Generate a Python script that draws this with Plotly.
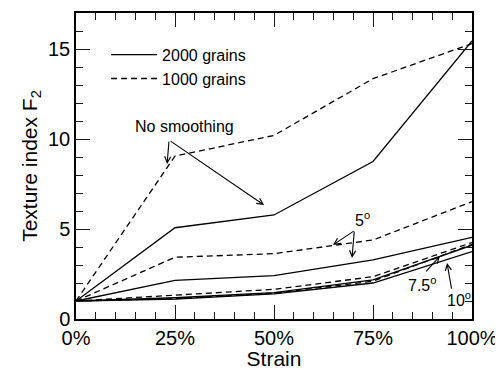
import plotly.graph_objects as go

strain = [0, 25, 50, 75, 100]

nosmooth_2000 = [1.0, 5.07, 5.78, 8.75, 15.45]
nosmooth_1000 = [1.0, 9.05, 10.2, 13.35, 15.3]
deg5_2000 = [1.0, 2.15, 2.41, 3.28, 4.54]
deg5_1000 = [1.0, 3.43, 3.63, 4.39, 6.52]
deg75_2000 = [1.0, 1.18, 1.47, 2.17, 4.1]
deg75_1000 = [1.0, 1.33, 1.65, 2.35, 4.25]
deg10_2000 = [1.0, 1.1, 1.4, 2.0, 3.75]
deg10_1000 = [1.0, 1.13, 1.43, 2.1, 4.15]

series = [
    ("2000 grains", nosmooth_2000, "solid", True),
    ("1000 grains", nosmooth_1000, "6px,4px", True),
    ("5 2000", deg5_2000, "solid", False),
    ("5 1000", deg5_1000, "6px,4px", False),
    ("7.5 2000", deg75_2000, "solid", False),
    ("7.5 1000", deg75_1000, "6px,4px", False),
    ("10 2000", deg10_2000, "solid", False),
    ("10 1000", deg10_1000, "6px,4px", False),
]

FONT = "Liberation Sans, Arial, Helvetica, sans-serif"
TICK = "#1a1a1a"

fig = go.Figure()
for name, vals, dash, show in series:
    fig.add_trace(go.Scatter(
        x=strain, y=vals, mode="lines", name=name, showlegend=show,
        line=dict(color="black", width=1.3, dash=dash),
    ))
# empty trace on overlay axes that carry the minor ticks
fig.add_trace(go.Scatter(x=[], y=[], xaxis="x2", yaxis="y2", showlegend=False, hoverinfo="skip"))

fig.update_layout(
    xaxis=dict(
        range=[0, 100], tickmode="linear", tick0=0, dtick=25, ticksuffix="%",
        showgrid=False, zeroline=False, showline=True, linecolor="black", linewidth=1.5,
        mirror="ticks", ticks="inside", ticklen=14, tickwidth=1, tickcolor=TICK,
        tickfont=dict(family=FONT, size=20, color="black"), automargin=False,
        title=dict(text="Strain", font=dict(family=FONT, size=21, color="black"), standoff=4),
    ),
    yaxis=dict(
        range=[0, 17], tickmode="linear", tick0=0, dtick=5,
        showgrid=False, zeroline=False, showline=True, linecolor="black", linewidth=1.5,
        mirror="ticks", ticks="inside", ticklen=14, tickwidth=1, tickcolor=TICK,
        tickfont=dict(family=FONT, size=20, color="black"), automargin=False,
        title=dict(text="Texture index F<sub>2</sub>", font=dict(family=FONT, size=21, color="black"), standoff=5),
    ),
    xaxis2=dict(
        range=[0, 100], tickmode="linear", tick0=0, dtick=5, overlaying="x", anchor="y2",
        showgrid=False, zeroline=False, showline=False, showticklabels=False,
        mirror="ticks", ticks="inside", ticklen=7, tickwidth=1, tickcolor=TICK, automargin=False,
    ),
    yaxis2=dict(
        range=[0, 17], tickmode="linear", tick0=0, dtick=1, overlaying="y", anchor="x2",
        showgrid=False, zeroline=False, showline=False, showticklabels=False,
        mirror="ticks", ticks="inside", ticklen=7, tickwidth=1, tickcolor=TICK, automargin=False,
    ),
)

ann_font = dict(family=FONT, size=16, color="black")
annotations = [
    dict(x=27.4, y=10.67, text="No smoothing", showarrow=False, font=ann_font),
    dict(x=23.0, y=8.61, ax=23.5, ay=9.94, text="", showarrow=True),
    dict(x=47.5, y=6.33, ax=23.5, ay=9.94, text="", showarrow=True),
    dict(x=72.4, y=5.55, text="5<sup>o</sup>", showarrow=False, font=ann_font),
    dict(x=64.9, y=4.11, ax=70.5, ay=4.94, text="", showarrow=True),
    dict(x=69.7, y=3.39, ax=70.3, ay=4.94, text="", showarrow=True),
    dict(x=87.4, y=1.95, text="7.5<sup>o</sup>", showarrow=False, font=ann_font),
    dict(x=91.9, y=3.5, ax=88.1, ay=2.56, text="", showarrow=True),
    dict(x=96.7, y=1.1, text="10<sup>o</sup>", showarrow=False, font=ann_font),
    dict(x=93.7, y=3.11, ax=94.9, ay=1.6, text="", showarrow=True),
]
for a in annotations:
    if a.get("showarrow"):
        a.update(xref="x", yref="y", axref="x", ayref="y",
                 arrowhead=5, arrowsize=1.1, arrowwidth=1.1, arrowcolor="black")
    else:
        a.update(xref="x", yref="y")
fig.update_layout(annotations=annotations)

# page body adds an 8px offset, so the figure is drawn 8px smaller with shifted margins
fig.update_layout(
    width=495, height=362,
    margin=dict(l=68, r=31, t=5, b=51),
    plot_bgcolor="white", paper_bgcolor="white",
    font=dict(family=FONT, color="black"),
    legend=dict(x=0.076, y=0.919, xanchor="left", yanchor="top", itemwidth=46,
                bgcolor="rgba(0,0,0,0)", font=dict(family=FONT, size=16, color="black"),
                tracegroupgap=0),
)

fig.write_html("out.html")
